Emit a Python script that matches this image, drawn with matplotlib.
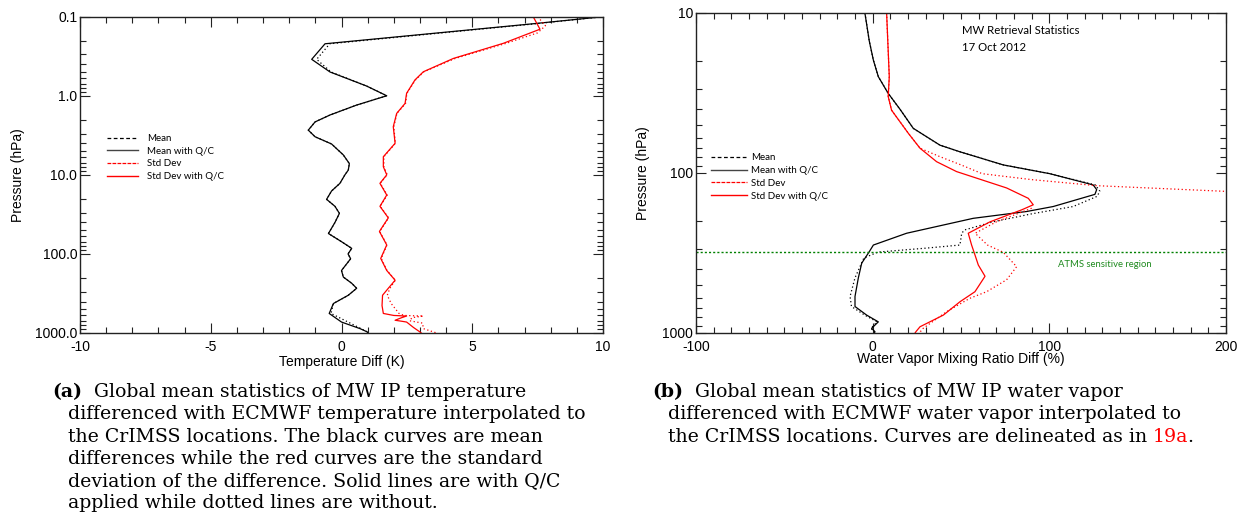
import matplotlib
matplotlib.use("Agg")
import matplotlib.pyplot as plt
from matplotlib.lines import Line2D
from matplotlib.ticker import MultipleLocator, LogLocator, NullFormatter

plt.rcParams["font.family"] = ["Liberation Sans", "DejaVu Sans"]
plt.rcParams["axes.unicode_minus"] = False

# ---- panel (a): temperature difference (K) vs pressure (hPa)
t_mean_qc_p = [0.1, 0.124, 0.22, 0.346, 0.5, 0.753, 1.0, 1.31, 1.75, 2.14, 2.72, 3.3, 4.07,
               5.6, 7.2, 8.7, 10, 12.8, 16, 20.4, 25, 30.7, 40, 55.2, 70, 85, 100, 115, 140,
               162, 196, 235, 272, 333, 424, 566, 727, 881, 970, 1000]
t_mean_qc = [10.0, 7.2, -0.63, -1.14, -0.44, 0.96, 1.73, 0.58, -0.44, -1.01, -1.27, -1.01, -0.38,
             0.07, 0.3, 0.26, 0.13, -0.06, -0.38, -0.57, -0.25, -0.08, -0.25, -0.5, 0.0, 0.39, 0.25,
             0.35, 0.15, 0.0, 0.07, 0.39, 0.58, 0.26, -0.31, -0.47, 0.0, 0.71, 0.99, 1.0]
t_mean = [10.0, 7.3, -0.45, -0.95, -0.4, 0.96, 1.73, 0.58, -0.44, -1.01, -1.27, -1.01, -0.38,
          0.07, 0.3, 0.26, 0.13, -0.06, -0.38, -0.57, -0.25, -0.08, -0.25, -0.5, 0.0, 0.39, 0.25,
          0.35, 0.15, 0.0, 0.07, 0.39, 0.58, 0.26, -0.31, -0.4, 0.25, 0.75, 0.99, 1.0]

t_std_qc_p = [0.1, 0.144, 0.217, 0.337, 0.497, 0.63, 0.93, 1.25, 1.67, 2.46, 3.99, 5.9, 7.9,
              10, 12.8, 18, 25, 35, 52, 77, 114, 162, 215, 272, 333, 450, 566, 600, 610, 640,
              690, 710, 727, 850, 970, 1000]
t_std_qc = [7.33, 7.59, 6.19, 4.28, 3.13, 2.81, 2.49, 2.43, 2.11, 1.98, 2.05, 1.6, 1.6,
            1.73, 1.47, 1.73, 1.47, 1.79, 1.45, 1.73, 1.5, 1.73, 2.05, 1.79, 1.57, 1.55, 1.6, 2.0,
            2.49, 2.3, 2.05, 2.3, 2.49, 2.75, 3.0, 3.05]
t_std_p = [0.1, 0.13, 0.16, 0.217, 0.337, 0.497, 0.63, 0.93, 1.25, 1.67, 2.46, 3.99, 5.9, 7.9,
           10, 12.8, 18, 25, 35, 52, 77, 114, 162, 215, 272, 333, 424, 566, 600, 610, 640, 700,
           750, 880, 1000]
t_std = [7.5, 7.8, 7.5, 6.3, 4.35, 3.15, 2.83, 2.5, 2.45, 2.12, 2.0, 2.06, 1.62, 1.62,
         1.75, 1.48, 1.75, 1.48, 1.8, 1.46, 1.74, 1.52, 1.74, 2.06, 1.85, 1.75, 1.9, 2.2, 2.4,
         3.13, 2.7, 2.6, 3.1, 3.13, 3.64]

# ---- panel (b): water vapour mixing ratio difference (%) vs pressure (hPa)
w_mean_qc_p = [10, 15, 19.7, 25, 31.8, 40, 52.6, 67, 73.7, 89, 101, 118.7, 127, 136, 162, 174,
               192, 238, 282, 310, 366, 452, 591, 683, 773, 852, 935, 981, 1000]
w_mean_qc = [-4.4, -1.9, 0.4, 3.2, 8.8, 15.5, 23, 38.1, 49.4, 73.9, 100.3, 124.8, 126.8, 125.8,
             102.2, 87.2, 56.9, 19.2, 0.4, -1.9, -6.2, -8.1, -10, -10, -3.4, 3.2, -0.6, 1.3, 1.0]
w_mean_p = [10, 15, 19.7, 25, 31.8, 40, 52.6, 67, 73.7, 89, 101, 118.7, 130, 140, 162, 180, 202,
            227, 238, 282, 295, 312, 340, 452, 591, 683, 773, 852, 935, 981, 1000]
w_mean = [-4.4, -1.9, 0.4, 3.2, 8.8, 15.5, 23, 38.1, 49.4, 73.9, 100.3, 126, 128.6, 127, 113.5,
          90, 68, 52, 50.4, 49.4, 30, 3, -5, -10, -12.8, -12, -4.5, 2.5, -1.0, 1.0, 1.0]

w_std_qc_p = [10, 25, 33.3, 40.5, 56.5, 70, 85, 98, 124, 144, 158, 170, 202, 238, 282, 325,
              376, 442, 552, 638, 773, 914, 981, 1000]
w_std_qc = [7.9, 9.4, 8.8, 10.7, 20.2, 26.8, 36.2, 47.5, 75.8, 88.1, 90.9, 84.3, 66.4, 54.1,
            56, 57.9, 59.8, 63.6, 57.9, 49.4, 40, 26.8, 24.5, 24]
# off-scale between ~135 and ~165 hPa (nan = no visible segment)
w_std_p = [10, 25, 33.3, 40.5, 56.5, 70, 79, 89, 101, 110, 120, 131, 140, 150, 166, 202, 238,
           282, 313, 385, 465, 552, 607, 735, 935, 981, 1000]
w_std = [7.9, 9.4, 8.8, 10.7, 20.2, 26.8, 38, 50, 62, 90, 126.8, 205, 300, float("nan"), 90, 70,
         58, 65, 73.9, 81.5, 75.8, 64.5, 55, 41.9, 28.6, 27, 27]

atms_p = 310

t_ticks = [0.1, 1, 10, 100, 1000]
t_tick_labels = ["0.1", "1.0", "10.0", "100.0", "1000.0"]
w_ticks = [10, 100, 1000]
w_tick_labels = ["10", "100", "1000"]

W, H = 1239, 527
fig = plt.figure(figsize=(W / 100, H / 100), dpi=100)


def box(x0, y0, x1, y1):
    return [x0 / W, 1 - y1 / H, (x1 - x0) / W, (y1 - y0) / H]


ax1 = fig.add_axes(box(80, 16.7, 603, 333))
ax2 = fig.add_axes(box(696, 13, 1226, 333))

dot = (0, (1, 2))


def style(ax, major, minor):
    ax.set_yscale("log")
    ax.xaxis.set_major_locator(MultipleLocator(major))
    ax.xaxis.set_minor_locator(MultipleLocator(minor))
    ax.yaxis.set_minor_locator(LogLocator(base=10, subs=range(2, 10)))
    ax.yaxis.set_minor_formatter(NullFormatter())
    ax.tick_params(which="both", direction="in", top=True, right=True, width=0.8,
                   labelsize=10, color="#222222")
    ax.tick_params(which="major", length=7)
    ax.tick_params(which="minor", length=4)
    ax.tick_params(axis="x", pad=5)
    ax.tick_params(axis="y", pad=2)
    for s in ax.spines.values():
        s.set_linewidth(1.0)
        s.set_color("#222222")


# panel (a)
ax1.plot(t_mean, t_mean_qc_p, color="black", lw=0.9, ls=dot)
ax1.plot(t_mean_qc, t_mean_qc_p, color="black", lw=0.9)
ax1.plot(t_std, t_std_p, color="red", lw=0.9, ls=dot)
ax1.plot(t_std_qc, t_std_qc_p, color="red", lw=0.9)
style(ax1, 5, 1)
ax1.set_xlim(-10, 10)
ax1.set_ylim(1000, 0.1)
ax1.set_yticks(t_ticks, labels=t_tick_labels)
ax1.set_xlabel("Temperature Diff (K)", fontsize=10, va="center")
ax1.xaxis.set_label_coords(0.5, -0.0907)
ax1.set_ylabel("Pressure (hPa)", fontsize=10, va="center")
ax1.yaxis.set_label_coords(-0.1185, 0.5)

# panel (b)
ax2.plot(w_mean, w_mean_p, color="black", lw=0.9, ls=dot)
ax2.plot(w_mean_qc, w_mean_qc_p, color="black", lw=0.9)
ax2.plot(w_std, w_std_p, color="red", lw=0.9, ls=dot)
ax2.plot(w_std_qc, w_std_qc_p, color="red", lw=0.9)
ax2.axhline(atms_p, color="green", lw=1.0, ls=(0, (1.5, 1.5)))
style(ax2, 100, 10)
ax2.set_xlim(-100, 200)
ax2.set_ylim(1000, 10)
ax2.set_yticks(w_ticks, labels=w_tick_labels)
ax2.set_xlabel("Water Vapor Mixing Ratio Diff (%)", fontsize=10, va="center")
ax2.xaxis.set_label_coords(0.5, -0.081)
ax2.set_ylabel("Pressure (hPa)", fontsize=10, va="center")
ax2.yaxis.set_label_coords(-0.0994, 0.5)

ax2.text(961.7 / W, 1 - 30.7 / H, "MW Retrieval Statistics", transform=fig.transFigure,
         fontsize=8.2, family="Lato", va="center", ha="left")
ax2.text(961.7 / W, 1 - 47.3 / H, "17 Oct 2012", transform=fig.transFigure,
         fontsize=8.2, family="Lato", va="center", ha="left")
ax2.text(1105 / W, 1 - 264.3 / H, "ATMS sensitive region", transform=fig.transFigure,
         fontsize=6.8, family="Lato", va="center", ha="center", color="#1f8a1f")

handles = [
    Line2D([], [], color="black", lw=0.9, ls=(0, (3, 2))),
    Line2D([], [], color="#444444", lw=1.0),
    Line2D([], [], color="red", lw=0.9, ls=(0, (3, 1))),
    Line2D([], [], color="red", lw=1.0),
]
labels = ["Mean", "Mean with Q/C", "Std Dev", "Std Dev with Q/C"]
leg_font = {"family": "Lato", "size": 7}
ax1.legend(handles, labels, loc="upper left", bbox_to_anchor=(0.051, 0.629), frameon=False,
           borderaxespad=0, borderpad=0, handlelength=3.25, handletextpad=0.86,
           labelspacing=0.38, prop=leg_font)
ax2.legend(handles, labels, loc="upper left", bbox_to_anchor=(0.0277, 0.561), frameon=False,
           borderaxespad=0, borderpad=0, handlelength=3.7, handletextpad=0.41,
           labelspacing=0.38, prop=leg_font)

# captions
cap = {"family": "DejaVu Serif", "size": 13.6, "va": "center", "ha": "left"}
line_y = [392, 414, 437, 459, 481, 503]
cap_a = ["differenced with ECMWF temperature interpolated to",
         "the CrIMSS locations. The black curves are mean",
         "differences while the red curves are the standard",
         "deviation of the difference. Solid lines are with Q/C",
         "applied while dotted lines are without."]
cap_b = ["differenced with ECMWF water vapor interpolated to",
         "the CrIMSS locations. Curves are delineated as in "]

fig.canvas.draw()
r = fig.canvas.get_renderer()


def after(t, s, shift=0, **kw):
    bb = t.get_window_extent(r)
    y = t.get_position()[1]
    return fig.text((bb.x1 + shift) / W, y, s, **{**cap, **kw})


ta = fig.text(52 / W, 1 - line_y[0] / H, "(a)", weight="bold", **cap)
after(ta, "  Global mean statistics of MW IP temperature")
for i, s in enumerate(cap_a):
    fig.text(68 / W, 1 - line_y[i + 1] / H, s, **cap)

tb = fig.text(652 / W, 1 - line_y[0] / H, "(b)", weight="bold", **cap)
after(tb, "  Global mean statistics of MW IP water vapor")
fig.text(668 / W, 1 - line_y[1] / H, cap_b[0], **cap)
t3 = fig.text(668 / W, 1 - line_y[2] / H, cap_b[1], **cap)
t4 = after(t3, "19a", color="red")
after(t4, ".", shift=-1)

fig.savefig("out.png", dpi=100)
